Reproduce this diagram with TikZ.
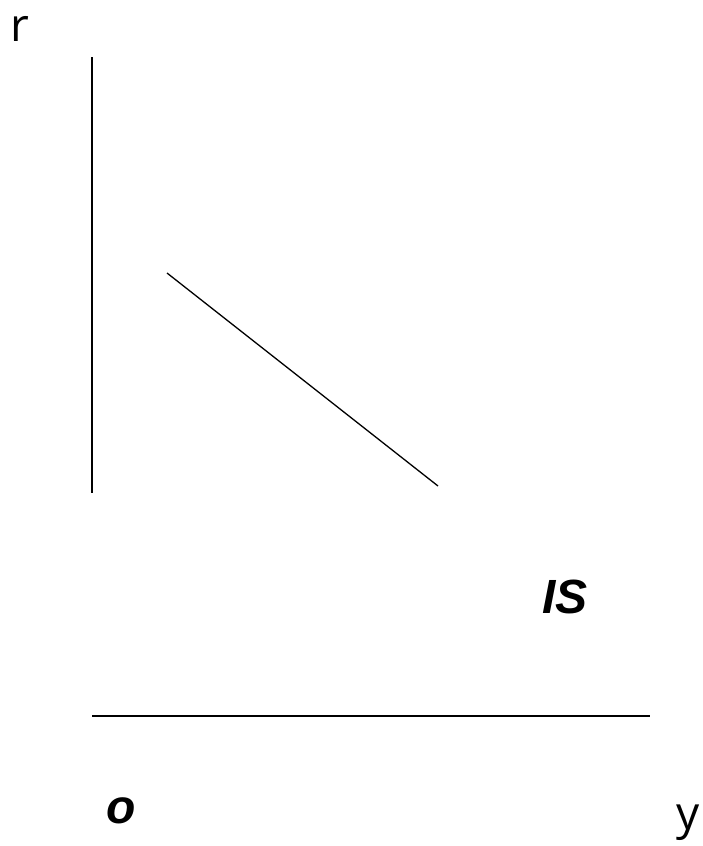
\documentclass[tikz,border=0pt]{standalone}
\usepackage{fontspec}
\setmainfont{Open Sans}
\newfontfamily\labfont{Liberation Sans}
\usetikzlibrary{positioning}

\begin{document}
\begin{tikzpicture}[x=1pt, y=-1pt, line width=1.6pt,
  axislabel/.style={font=\fontsize{46}{50}\selectfont, inner sep=0pt, anchor=base},
  curvelabel/.style={font=\labfont\bfseries\itshape\fontsize{48}{52}\selectfont, inner sep=0pt, anchor=base}]
  \useasboundingbox (0,0) rectangle (702,846);
  % axes
  \draw (92,57) -- (92,493);
  \draw (92,716) -- (650,716);
  % the IS line
  \coordinate (isTop) at (167,273);
  \coordinate (isBot) at (438,486);
  \draw[line width=1.3pt] (isTop) -- (isBot);
  % labels
  \node[axislabel] (rlab) at (20,41) {r};
  \node[axislabel] (ylab) at (688,829) {y};
  \node[curvelabel] (islab) at (565,613) {IS};
  \node[curvelabel] (olab) at (121,823) {o};
\end{tikzpicture}
\end{document}
